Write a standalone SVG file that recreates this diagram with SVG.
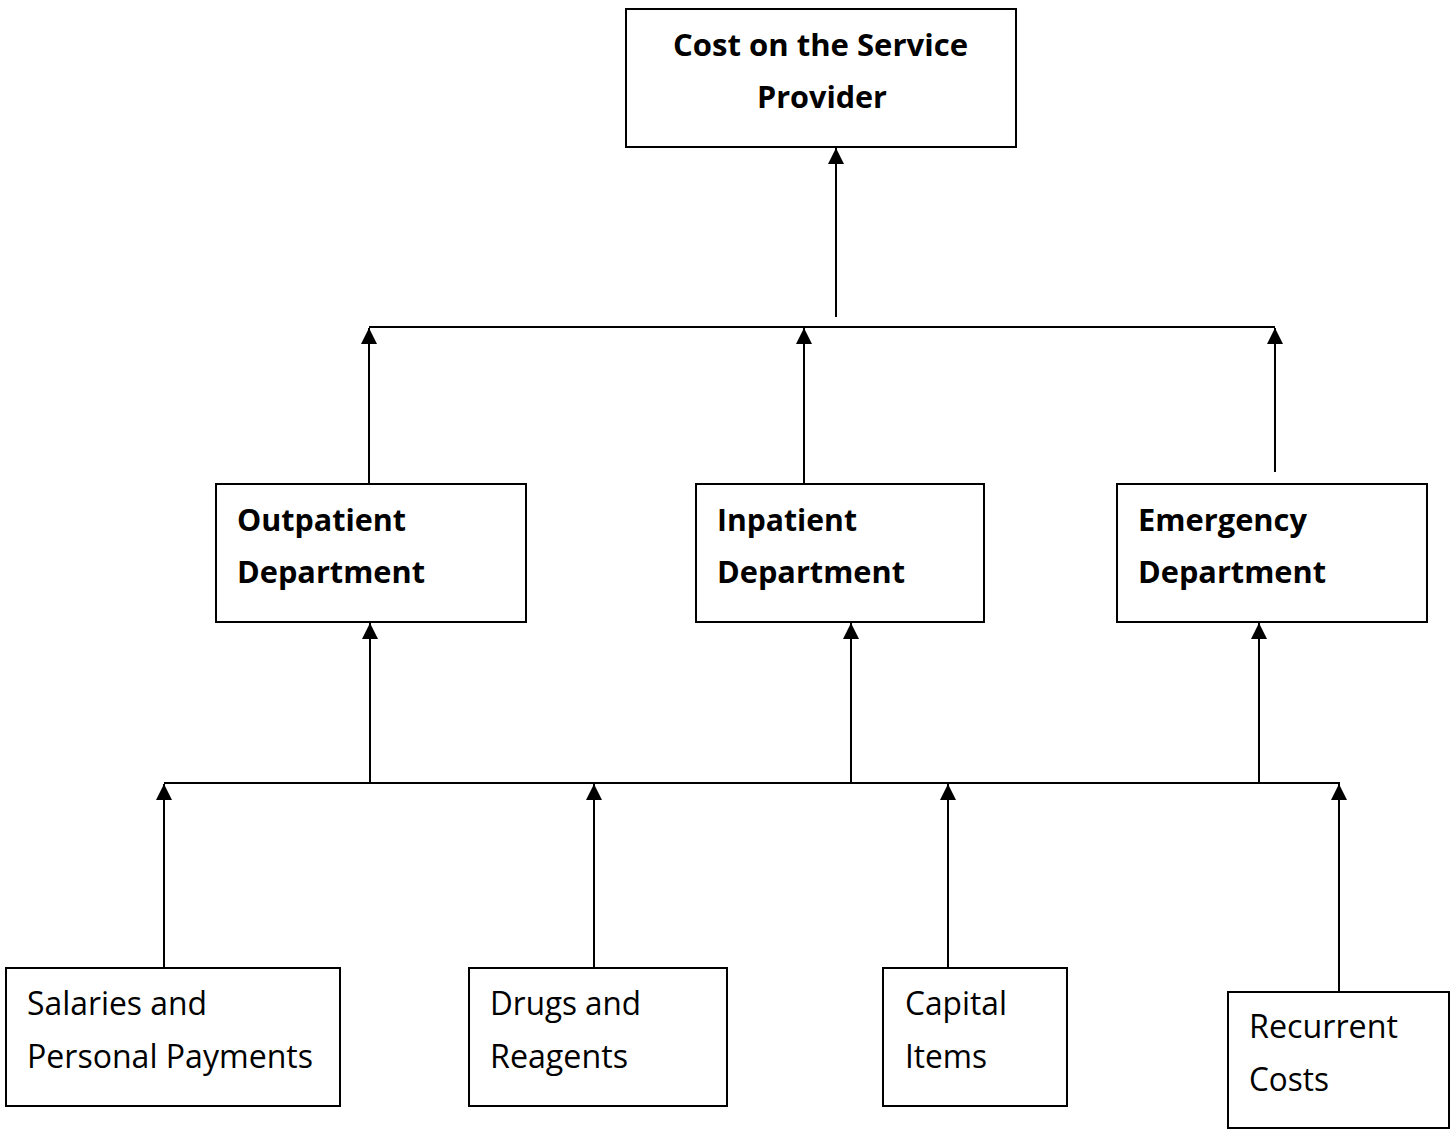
<svg xmlns="http://www.w3.org/2000/svg" width="1453" height="1130" viewBox="0 0 1453 1130">
<defs>
<style>
.box{fill:#fff;stroke:#000;stroke-width:2}
.ln{fill:none;stroke:#000;stroke-width:2}
.b{font-family:"Open Sans","Liberation Sans",sans-serif;font-weight:bold;font-size:31px;fill:#000}
.r{font-family:"Open Sans","Liberation Sans",sans-serif;font-size:32px;fill:#000}
</style>
<marker id="ah" markerUnits="userSpaceOnUse" markerWidth="16" markerHeight="16" viewBox="0 0 16 16" refX="16" refY="8" orient="auto">
<path d="M0,0 L16,8 L0,16 z" fill="#000"/>
</marker>
</defs>
<rect width="1453" height="1130" fill="#fff"/>
<g id="connectors">
<line class="ln" x1="836" y1="317" x2="836" y2="148" marker-end="url(#ah)"/>
<line class="ln" x1="369" y1="327" x2="1275" y2="327"/>
<line class="ln" x1="369" y1="484" x2="369" y2="328" marker-end="url(#ah)"/>
<line class="ln" x1="804" y1="484" x2="804" y2="328" marker-end="url(#ah)"/>
<line class="ln" x1="1275" y1="472" x2="1275" y2="328" marker-end="url(#ah)"/>
<line class="ln" x1="164" y1="783" x2="1340" y2="783"/>
<line class="ln" x1="370" y1="783" x2="370" y2="623" marker-end="url(#ah)"/>
<line class="ln" x1="851" y1="783" x2="851" y2="623" marker-end="url(#ah)"/>
<line class="ln" x1="1259" y1="783" x2="1259" y2="623" marker-end="url(#ah)"/>
<line class="ln" x1="164" y1="968" x2="164" y2="784" marker-end="url(#ah)"/>
<line class="ln" x1="594" y1="968" x2="594" y2="784" marker-end="url(#ah)"/>
<line class="ln" x1="948" y1="968" x2="948" y2="784" marker-end="url(#ah)"/>
<line class="ln" x1="1339" y1="992" x2="1339" y2="784" marker-end="url(#ah)"/>
</g>
<g id="cost-provider">
<rect class="box" x="626" y="9" width="390" height="138"/>
<text class="b" x="673" y="56" textLength="295" lengthAdjust="spacingAndGlyphs">Cost on the Service</text>
<text class="b" x="757" y="108" textLength="130" lengthAdjust="spacingAndGlyphs">Provider</text>
</g>
<g id="outpatient">
<rect class="box" x="216" y="484" width="310" height="138"/>
<text class="b" x="237" y="531" textLength="169" lengthAdjust="spacingAndGlyphs">Outpatient</text>
<text class="b" x="237" y="583" textLength="188" lengthAdjust="spacingAndGlyphs">Department</text>
</g>
<g id="inpatient">
<rect class="box" x="696" y="484" width="288" height="138"/>
<text class="b" x="717" y="531" textLength="140" lengthAdjust="spacingAndGlyphs">Inpatient</text>
<text class="b" x="717" y="583" textLength="188" lengthAdjust="spacingAndGlyphs">Department</text>
</g>
<g id="emergency">
<rect class="box" x="1117" y="484" width="310" height="138"/>
<text class="b" x="1138" y="531" textLength="169" lengthAdjust="spacingAndGlyphs">Emergency</text>
<text class="b" x="1138" y="583" textLength="188" lengthAdjust="spacingAndGlyphs">Department</text>
</g>
<g id="salaries">
<rect class="box" x="6" y="968" width="334" height="138"/>
<text class="r" x="27" y="1015" textLength="180" lengthAdjust="spacingAndGlyphs">Salaries and</text>
<text class="r" x="27" y="1068" textLength="286" lengthAdjust="spacingAndGlyphs">Personal Payments</text>
</g>
<g id="drugs">
<rect class="box" x="469" y="968" width="258" height="138"/>
<text class="r" x="490" y="1015" textLength="151" lengthAdjust="spacingAndGlyphs">Drugs and</text>
<text class="r" x="490" y="1068" textLength="138" lengthAdjust="spacingAndGlyphs">Reagents</text>
</g>
<g id="capital">
<rect class="box" x="883" y="968" width="184" height="138"/>
<text class="r" x="905" y="1015" textLength="102" lengthAdjust="spacingAndGlyphs">Capital</text>
<text class="r" x="905" y="1068" textLength="82" lengthAdjust="spacingAndGlyphs">Items</text>
</g>
<g id="recurrent">
<rect class="box" x="1228" y="992" width="221" height="136"/>
<text class="r" x="1249" y="1038" textLength="149" lengthAdjust="spacingAndGlyphs">Recurrent</text>
<text class="r" x="1249" y="1091" textLength="80" lengthAdjust="spacingAndGlyphs">Costs</text>
</g>
</svg>
